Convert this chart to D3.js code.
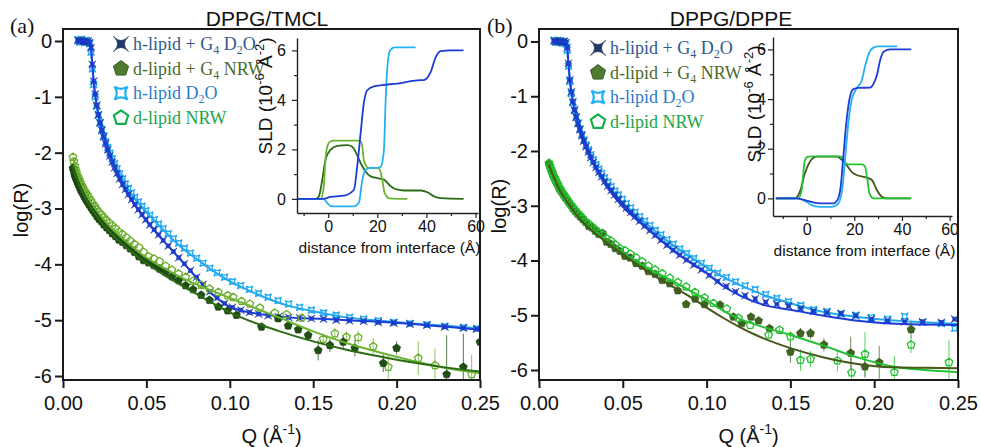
<!DOCTYPE html>
<html>
<head>
<meta charset="utf-8">
<script src="https://cdn.jsdelivr.net/npm/d3@7"></script>
<style>
  body { margin: 0; background: #fff; }
  svg text { font-family: "Liberation Sans", Arial, sans-serif; fill: #111; }
</style>
</head>
<body>
<svg id="chart" width="981" height="447"></svg>
<script>
// ---------------- Reflectivity data (log R vs Q, Å^-1) ----------------
// Q grid of the D2O contrast measurements
const qD2O = [0.0090,0.0100,0.0110,0.0120,0.0130,0.0140,0.0150,0.0160,
  0.0168,0.0176,0.0184,0.0193,0.0202,0.0212,0.0222,0.0233,0.0244,0.0256,
  0.0268,0.0281,0.0295,0.0309,0.0324,0.0340,0.0357,0.0374,0.0392,0.0411,
  0.0431,0.0452,0.0474,0.0497,0.0521,0.0547,0.0573,0.0601,0.0631,0.0662,
  0.0694,0.0728,0.0764,0.0801,0.0840,0.0881,0.0924,0.0969,0.1016,0.1066,
  0.1118,0.1173,0.1230,0.1290,0.1353,0.1419,0.1489,0.1562,0.1638,0.1718,
  0.1802,0.1890,0.1983,0.2080,0.2182,0.2289,0.2401,0.2480];
// Low-Q grid of the NRW contrast measurements
const qNRW = [0.0060,0.0065,0.0070,0.0075,0.0080,0.0086,0.0092,0.0098,0.0105,0.0112,
  0.0120,0.0128,0.0137,0.0146,0.0156,0.0167,0.0178,0.0190,0.0203,0.0216,
  0.0230,0.0245,0.0261,0.0278,0.0296,0.0315,0.0335,0.0356,0.0379,0.0403,
  0.0428,0.0455,0.0483,0.0513,0.0545,0.0579,0.0615,0.0653,0.0693,0.0735,
  0.0780,0.0828,0.0878,0.0931,0.0987];
// Q grids of the fitted model curves
const qFitD2O = [0.009,0.016,0.0168,0.0176,0.0185,0.0195,0.021,0.023,0.025,0.028,0.031,0.035,
  0.04,0.045,0.05,0.06,0.07,0.08,0.09,0.1,0.11,0.12,0.135,0.15,0.17,0.19,0.21,0.23,0.25];
const qFitNRW = [0.006,0.008,0.010,0.0125,0.015,0.02,0.025,0.03,0.035,0.04,0.05,0.06,0.07,
  0.08,0.09,0.1,0.11,0.12,0.13,0.15,0.17,0.19,0.21,0.23,0.25];

// (a) DPPG/TMCL
const rA_hG4 = [0.01,0.00,0.01,-0.01,0.00,-0.02,0.00,-0.03,
  -0.12,-0.42,-0.72,-0.95,-1.15,-1.32,-1.47,-1.60,-1.72,-1.84,
  -1.95,-2.06,-2.17,-2.27,-2.37,-2.47,-2.57,-2.66,-2.75,-2.84,
  -2.93,-3.02,-3.11,-3.20,-3.29,-3.38,-3.47,-3.57,-3.67,-3.77,
  -3.88,-3.99,-4.11,-4.23,-4.36,-4.49,-4.60,-4.70,-4.77,-4.82,
  -4.86,-4.89,-4.92,-4.94,-4.95,-4.96,-4.97,-4.98,-5.00,-5.01,
  -5.02,-5.04,-5.05,-5.07,-5.09,-5.12,-5.14,-5.16];
const rA_h = [0.02,-0.02,0.03,0.00,-0.03,0.01,-0.02,-0.05,
  -0.20,-0.50,-0.78,-1.00,-1.17,-1.33,-1.46,-1.59,-1.70,-1.81,
  -1.91,-2.01,-2.11,-2.20,-2.29,-2.38,-2.47,-2.56,-2.64,-2.72,
  -2.80,-2.88,-2.96,-3.04,-3.12,-3.20,-3.28,-3.36,-3.45,-3.54,
  -3.62,-3.71,-3.80,-3.89,-3.98,-4.07,-4.15,-4.23,-4.31,-4.38,
  -4.45,-4.52,-4.59,-4.65,-4.71,-4.77,-4.82,-4.87,-4.91,-4.95,
  -4.98,-5.01,-5.04,-5.06,-5.08,-5.11,-5.13,-5.15];
const rA_dG4 = [-2.28,-2.33,-2.40,-2.44,-2.48,-2.52,-2.57,-2.60,-2.66,-2.70,
  -2.74,-2.79,-2.84,-2.88,-2.93,-2.98,-3.03,-3.08,-3.14,-3.19,
  -3.23,-3.29,-3.34,-3.39,-3.45,-3.50,-3.56,-3.60,-3.66,-3.72,
  -3.78,-3.86,-3.93,-3.97,-4.02,-4.08,-4.14,-4.22,-4.29,-4.38,
  -4.45,-4.55,-4.64,-4.76,-4.83];
const rA_d = [-2.08,-2.16,-2.24,-2.30,-2.35,-2.41,-2.45,-2.49,-2.54,-2.59,
  -2.63,-2.68,-2.72,-2.76,-2.81,-2.86,-2.91,-2.96,-3.02,-3.07,
  -3.11,-3.16,-3.21,-3.26,-3.31,-3.36,-3.42,-3.46,-3.52,-3.58,
  -3.64,-3.70,-3.78,-3.86,-3.90,-3.95,-4.03,-4.10,-4.17,-4.23,
  -4.30,-4.37,-4.44,-4.50,-4.56];
// high-Q NRW points with error bars
const qA_dG4Hi = [0.104,0.119,0.129,0.135,0.141,0.147,0.153,0.160,0.168,0.175,0.192,0.200,0.230,0.240,0.250];
const rA_dG4Hi = [-4.91,-5.12,-4.97,-5.10,-5.17,-5.27,-5.54,-5.45,-5.39,-5.50,-5.77,-5.50,-5.97,-5.84,-5.39];
const eA_dG4Hi = [0.03,0.05,0.05,0.05,0.06,0.07,0.18,0.12,0.12,0.15,0.16,0.12,0.70,0.60,0.25];
const qA_dHi = [0.102,0.107,0.112,0.118,0.127,0.134,0.143,0.156,0.163,0.170,0.177,0.186,0.195,0.213,0.223,0.245];
const rA_dHi = [-4.59,-4.66,-4.71,-4.78,-4.87,-4.90,-4.96,-5.34,-5.24,-5.30,-5.31,-5.47,-5.84,-5.68,-5.81,-5.97];
const eA_dHi = [0.02,0.02,0.03,0.03,0.04,0.04,0.05,0.10,0.10,0.10,0.12,0.15,0.22,0.30,0.30,0.35];
// fitted curves
const fA_hG4 = [0,-0.01,-0.12,-0.42,-0.75,-1.0,-1.28,-1.55,-1.77,-2.04,-2.27,-2.52,-2.8,-3.02,-3.22,
  -3.57,-3.9,-4.24,-4.55,-4.76,-4.85,-4.9,-4.95,-4.97,-5.0,-5.03,-5.07,-5.12,-5.17];
const fA_h = [0,-0.02,-0.18,-0.48,-0.8,-1.04,-1.3,-1.54,-1.75,-2.0,-2.2,-2.43,-2.7,-2.9,-3.06,
  -3.38,-3.67,-3.9,-4.12,-4.3,-4.45,-4.58,-4.74,-4.84,-4.95,-5.01,-5.06,-5.1,-5.15];
const fA_dG4 = [-2.22,-2.45,-2.6,-2.76,-2.9,-3.13,-3.32,-3.48,-3.62,-3.75,-3.98,-4.18,-4.36,
  -4.53,-4.7,-4.86,-4.99,-5.1,-5.2,-5.38,-5.53,-5.65,-5.76,-5.85,-5.92];
const fA_d = [-2.1,-2.3,-2.48,-2.65,-2.8,-3.03,-3.22,-3.38,-3.52,-3.65,-3.88,-4.06,-4.22,
  -4.36,-4.48,-4.6,-4.72,-4.84,-4.96,-5.2,-5.41,-5.58,-5.73,-5.86,-5.95];

// (b) DPPG/DPPE
const rB_hG4 = [0.01,0.00,-0.01,0.01,0.00,-0.01,0.00,-0.02,
  -0.11,-0.40,-0.70,-0.92,-1.10,-1.25,-1.38,-1.50,-1.61,-1.72,
  -1.82,-1.92,-2.02,-2.12,-2.21,-2.30,-2.39,-2.47,-2.56,-2.64,
  -2.72,-2.80,-2.88,-2.96,-3.04,-3.12,-3.20,-3.28,-3.37,-3.45,
  -3.54,-3.63,-3.72,-3.81,-3.90,-3.99,-4.08,-4.17,-4.27,-4.38,
  -4.47,-4.57,-4.64,-4.70,-4.76,-4.80,-4.83,-4.88,-4.93,-4.95,
  -4.97,-5.01,-5.07,-5.10,-5.12,-5.12,-5.13,-5.07];
const rB_h = [0.02,-0.01,0.02,-0.02,0.01,-0.03,0.00,-0.04,
  -0.16,-0.45,-0.73,-0.95,-1.12,-1.26,-1.38,-1.49,-1.60,-1.70,
  -1.80,-1.89,-1.98,-2.07,-2.16,-2.25,-2.33,-2.41,-2.49,-2.57,
  -2.65,-2.73,-2.80,-2.88,-2.96,-3.04,-3.12,-3.20,-3.28,-3.36,
  -3.45,-3.53,-3.62,-3.70,-3.79,-3.87,-3.96,-4.05,-4.14,-4.23,
  -4.31,-4.39,-4.46,-4.53,-4.62,-4.69,-4.75,-4.82,-4.90,-4.93,
  -4.97,-5.00,-5.04,-5.07,-5.02,-5.13,-5.15,-5.24];
const rB_dG4 = [-2.24,-2.28,-2.33,-2.37,-2.42,-2.46,-2.50,-2.54,-2.58,-2.62,
  -2.68,-2.72,-2.76,-2.80,-2.85,-2.89,-2.94,-2.99,-3.05,-3.10,
  -3.15,-3.20,-3.25,-3.30,-3.37,-3.40,-3.46,-3.52,-3.50,-3.66,
  -3.70,-3.78,-3.83,-3.92,-3.95,-4.05,-4.10,-4.20,-4.25,-4.36,
  -4.42,-4.55,-4.80,-4.70,-4.80];
const rB_d = [-2.22,-2.27,-2.32,-2.36,-2.40,-2.45,-2.49,-2.53,-2.57,-2.61,
  -2.66,-2.70,-2.75,-2.79,-2.83,-2.88,-2.93,-2.98,-3.03,-3.08,
  -3.13,-3.18,-3.23,-3.29,-3.33,-3.38,-3.43,-3.49,-3.53,-3.60,
  -3.64,-3.71,-3.78,-3.82,-3.88,-3.95,-4.02,-4.10,-4.17,-4.24,
  -4.32,-4.40,-4.48,-4.58,-4.68];
const qB_dG4Hi = [0.108,0.116,0.121,0.1265,0.131,0.1375,0.150,0.156,0.162,0.170,0.186,0.1945,0.203,0.222];
const rB_dG4Hi = [-4.81,-5.03,-5.15,-5.03,-5.10,-5.24,-5.67,-5.33,-5.33,-5.54,-5.69,-5.94,-5.86,-5.26];
const eB_dG4Hi = [0.03,0.04,0.05,0.05,0.05,0.06,0.20,0.10,0.10,0.12,0.30,0.20,0.30,0.15];
const qB_dHi = [0.104,0.112,0.119,0.126,0.137,0.1435,0.150,0.156,0.162,0.178,0.1865,0.1945,0.212,0.222,0.2446];
const rB_dHi = [-4.78,-4.88,-5.05,-5.18,-5.36,-5.27,-5.39,-5.82,-5.80,-5.83,-6.05,-5.71,-6.04,-5.54,-5.86];
const eB_dHi = [0.02,0.03,0.03,0.04,0.05,0.05,0.10,0.20,0.15,0.20,0.35,0.40,0.30,0.15,0.40];
const fB_hG4 = [0,-0.01,-0.1,-0.4,-0.72,-0.95,-1.2,-1.45,-1.65,-1.92,-2.14,-2.38,-2.63,-2.84,-3.02,
  -3.3,-3.56,-3.82,-4.03,-4.23,-4.47,-4.64,-4.82,-4.9,-5.01,-5.1,-5.15,-5.17,-5.18];
const fB_h = [0,-0.02,-0.15,-0.45,-0.75,-0.98,-1.22,-1.45,-1.64,-1.9,-2.1,-2.33,-2.57,-2.77,-2.94,
  -3.22,-3.48,-3.72,-3.93,-4.12,-4.3,-4.45,-4.64,-4.78,-4.94,-5.03,-5.09,-5.13,-5.16];
const fB_dG4 = [-2.25,-2.42,-2.56,-2.72,-2.85,-3.07,-3.26,-3.41,-3.54,-3.66,-3.88,-4.1,-4.3,
  -4.48,-4.66,-4.86,-5.05,-5.22,-5.37,-5.6,-5.77,-5.89,-5.95,-5.96,-5.97];
const fB_d = [-2.23,-2.4,-2.55,-2.71,-2.84,-3.06,-3.25,-3.4,-3.53,-3.65,-3.86,-4.05,-4.22,
  -4.38,-4.55,-4.72,-4.92,-5.07,-5.18,-5.36,-5.56,-5.77,-5.93,-6.0,-6.04];

// ---------------- SLD profiles (inset): distance (Å) vs SLD (1e-6 Å^-2) ----------------
const zA_hG4 = [-12.6,-2,0.9,6.4,10.5,11.8,13.2,14.5,15.9,18.6,22,28.2,36.3,39,41.7,43.8,45.8,49.9,55.1];
const sA_hG4 = [0,0,0.08,0.13,0.37,1.3,2.65,3.86,4.39,4.55,4.6,4.66,4.79,4.8,5.12,5.73,5.97,6.0,6.0];
const zA_h = [-12.6,-2,-0.5,1,5,10.5,12.5,13.9,15.2,17.3,20,21.4,22.7,23.4,24.1,25.2,27,35.6];
const sA_h = [0,0,-0.15,-0.29,-0.3,-0.3,-0.16,0.78,1.18,1.25,1.25,1.3,1.98,3.99,5.33,6.0,6.12,6.12];
const zA_d = [-12.6,-3.1,-1.8,-1.1,-0.4,0.9,2.3,11.8,13.2,13.9,14.5,15.6,16.6,20,21,22,23,24.8,32.2];
const sA_d = [0,0,0.5,1.58,2.11,2.32,2.35,2.35,2.32,2.11,1.58,1.31,1.25,1.25,1.18,0.78,0.24,0.02,0];
const zA_dG4 = [-12.6,-5.2,-3.8,-2.4,-1.1,0.9,3.7,7.8,9.8,11.1,13.2,15.2,17.3,20,22.7,25.4,28.2,30.9,37.7,40.4,43.1,45.9,55.1];
const sA_dG4 = [0,0,0.1,0.78,1.58,1.98,2.14,2.17,2.11,1.91,1.45,1.11,0.91,0.84,0.78,0.51,0.37,0.34,0.34,0.27,0.1,0.03,0];

const zB_hG4 = [-12.9,-4.2,-0.7,2.8,5.6,11.2,12.9,14.3,15.4,16.5,17.9,19.6,21.7,26.6,28,29.5,30.9,32.3,35.1,43.9];
const sB_hG4 = [0,0,-0.07,-0.16,-0.2,-0.2,-0.07,0.47,1.68,2.89,3.96,4.4,4.45,4.46,4.6,4.97,5.58,5.91,6.0,6.0];
const zB_h = [-12.9,-4.2,-0.7,2.1,5.6,10.5,13.3,15.1,16.1,17.5,18.9,21,23.2,24.5,25.9,28,30.1,37.9];
const sB_h = [0,0,-0.1,-0.27,-0.34,-0.34,-0.2,0.47,1.55,3.02,3.96,4.43,4.77,5.31,5.78,6.07,6.12,6.12];
const zB_d = [-12.9,-3.5,-2.1,-0.7,0.7,2.8,14,15.4,16.5,17.5,23.2,24.5,25.5,26.4,28,43.9];
const sB_d = [0,0,0.33,1.54,1.68,1.69,1.69,1.6,1.41,1.37,1.37,1.28,0.74,0.2,0,0];
const zB_dG4 = [-12.9,-4.9,-2.8,-0.7,1.4,4.2,12.6,14.7,16.8,18.9,21,23.9,25.3,27.4,29.5,31.6,33.7,43.9];
const sB_dG4 = [0,0,0.27,1.01,1.48,1.68,1.68,1.56,1.34,1.07,0.94,0.87,0.84,0.74,0.33,0.06,0,0];

// ---------------- axis ticks and labels ----------------
const qTicks = [0, 0.05, 0.10, 0.15, 0.20, 0.25];
const logTicks = [0, -1, -2, -3, -4, -5, -6];
const zTicks = [0, 20, 40, 60], zMinor = [-10, 10, 30, 50];
const sldTicks = [0, 2, 4, 6], sldMinor = [1, 3, 5];
const titles = ["DPPG/TMCL", "DPPG/DPPE"];
const panelTags = ["(a)", "(b)"];

// ---------------- helpers ----------------
const svg = d3.select("#chart");
const zip = (xs, ys) => xs.map((x, i) => ({ x, y: ys[i] }));
const zip3 = (xs, ys, es) => xs.map((x, i) => ({ x, y: ys[i], e: es[i] }));
const fmtQ = d => d.toFixed(2);
const fmtInt = d => String(Math.round(d));

// concave four-pointed marker (corners at ±r); k sets how far the sides bow in
function starPath(r, k) {
  return `M${-r},${-r}Q0,${-k * r} ${r},${-r}Q${k * r},0 ${r},${r}Q0,${k * r} ${-r},${r}Q${-k * r},0 ${-r},${-r}Z`;
}
function pentPath(r) {
  const pts = d3.range(5).map(i => {
    const a = (-90 + 72 * i) * Math.PI / 180;
    return [r * Math.cos(a), r * Math.sin(a)];
  });
  return "M" + pts.map(p => p.join(",")).join("L") + "Z";
}

function drawPanel(p, idx) {
  const g = svg.append("g");
  const x = d3.scaleLinear().domain([0, 0.25]).range([p.left, p.right]);
  const y = d3.scaleLinear().domain([-6, 0]).range([p.yMin6, p.y0]);
  const clipId = "clip" + idx;
  svg.append("clipPath").attr("id", clipId).append("rect")
    .attr("x", p.left).attr("y", p.top).attr("width", p.right - p.left).attr("height", p.bottom - p.top);
  const plot = g.append("g").attr("clip-path", `url(#${clipId})`);
  const line = d3.line().x(d => x(d.x)).y(d => y(d.y)).curve(d3.curveMonotoneX);

  // D2O series: light blue open stars, dark blue filled stars
  plot.append("g").selectAll("path").data(zip(qD2O, p.rH)).join("path")
    .attr("transform", d => `translate(${x(d.x)},${y(d.y)})`)
    .attr("d", starPath(3.4, 0.25)).attr("fill", "none")
    .attr("stroke", p.cLightBlue).attr("stroke-width", 1.3);
  plot.append("path").datum(zip(qFitD2O, p.fH)).attr("d", line)
    .attr("fill", "none").attr("stroke", p.cLightBlue).attr("stroke-width", 2);
  plot.append("g").selectAll("path").data(zip(qD2O, p.rHG4)).join("path")
    .attr("transform", d => `translate(${x(d.x)},${y(d.y)})`)
    .attr("d", starPath(3.6, 0)).attr("fill", p.cBlue)
    .attr("stroke", "#1a2f9a").attr("stroke-width", 0.6);
  plot.append("path").datum(zip(qFitD2O, p.fHG4)).attr("d", line)
    .attr("fill", "none").attr("stroke", p.cBlueLine).attr("stroke-width", 2);

  // NRW series
  const dG4 = zip(qNRW, p.rDG4).concat(zip3(p.qDG4Hi, p.rDG4Hi, p.eDG4Hi));
  const dNo = zip(qNRW, p.rD).concat(zip3(p.qDHi, p.rDHi, p.eDHi));
  const errs = (data, col) => plot.append("g").selectAll("line").data(data.filter(d => d.e > 0.04)).join("line")
    .attr("x1", d => x(d.x)).attr("x2", d => x(d.x))
    .attr("y1", d => y(d.y + d.e)).attr("y2", d => y(d.y - d.e))
    .attr("stroke", col).attr("stroke-width", 1).attr("opacity", 0.75);
  errs(dG4, p.cDarkGreen);
  errs(dNo, p.cLightGreen);
  const openPent = () => plot.append("g").selectAll("path").data(dNo).join("path")
    .attr("transform", d => `translate(${x(d.x)},${y(d.y)})`)
    .attr("d", pentPath(4)).attr("fill", "none")
    .attr("stroke", p.cLightGreen).attr("stroke-width", 1.3);
  const filledPent = () => plot.append("g").selectAll("path").data(dG4).join("path")
    .attr("transform", d => `translate(${x(d.x)},${y(d.y)})`)
    .attr("d", pentPath(4.2)).attr("fill", p.cDarkGreen)
    .attr("stroke", p.cDarkGreenEdge).attr("stroke-width", 0.6);
  if (p.openOnTop) { filledPent(); openPent(); } else { openPent(); filledPent(); }
  plot.append("path").datum(zip(qFitNRW, p.fD)).attr("d", line)
    .attr("fill", "none").attr("stroke", p.cLightGreenLine).attr("stroke-width", 2);
  plot.append("path").datum(zip(qFitNRW, p.fDG4)).attr("d", line)
    .attr("fill", "none").attr("stroke", p.cDarkGreenLine).attr("stroke-width", 2);

  // axes
  const ax = g.append("g").attr("transform", `translate(0,${p.bottom})`)
    .call(d3.axisBottom(x).tickValues(qTicks).tickFormat(fmtQ)
      .tickSize(8).tickPadding(8).tickSizeOuter(0));
  const ay = g.append("g").attr("transform", `translate(${p.left},0)`)
    .call(d3.axisLeft(y).tickValues(logTicks).tickFormat(fmtInt)
      .tickSize(8).tickPadding(3).tickSizeOuter(0));
  [ax, ay].forEach(a => {
    a.select(".domain").remove();
    a.selectAll(".tick line").attr("stroke", "#1a1a1a").attr("stroke-width", 2);
    a.selectAll(".tick text").attr("font-size", 20).attr("fill", "#111")
      .attr("font-family", "'Liberation Sans', Arial, sans-serif");
  });

  // frame
  g.append("rect").attr("x", p.left).attr("y", p.top)
    .attr("width", p.right - p.left).attr("height", p.bottom - p.top)
    .attr("fill", "none").attr("stroke", "#1a1a1a").attr("stroke-width", 2);

  // axis titles
  g.append("text").attr("transform", `translate(${p.yLabelX},${p.yLabelY}) rotate(-90)`)
    .attr("text-anchor", "middle").attr("font-size", 20).text("log(R)");
  const xt = g.append("text").attr("x", (p.left + p.right) / 2).attr("y", 443)
    .attr("text-anchor", "middle").attr("font-size", 20);
  xt.append("tspan").text("Q (Å");
  xt.append("tspan").attr("font-size", 14).attr("dy", -9).text("-1");
  xt.append("tspan").attr("dy", 9).text(")");

  // title and panel tag
  g.append("text").attr("x", p.titleX).attr("y", 26).attr("text-anchor", "middle")
    .attr("font-size", 21).text(titles[idx]);
  g.append("text").attr("x", p.tagX).attr("y", 33).attr("font-size", 22)
    .style("font-family", "'Liberation Serif', 'Times New Roman', serif").text(panelTags[idx]);

  // legend
  const lg = g.append("g");
  const rows = [
    { label: ["h-lipid + G", "4", " D", "2", "O"], col: "#2f5a8e" },
    { label: ["d-lipid + G", "4", " NRW"], col: "#4a6b2c" },
    { label: ["h-lipid D", "2", "O"], col: "#2b7ccc" },
    { label: ["d-lipid NRW"], col: "#22a548" }
  ];
  rows.forEach((r, i) => {
    const cy = p.legY + i * 24.6;
    const m = lg.append("path").attr("transform", `translate(${p.legX},${cy})`);
    if (i === 0) m.attr("d", starPath(7.5, -0.1)).attr("fill", "#1f3b6e").attr("stroke", "#1a2f55").attr("stroke-width", 0.8);
    if (i === 1) m.attr("d", pentPath(8)).attr("fill", "#4e7a32").attr("stroke", "#3b5c26").attr("stroke-width", 1);
    if (i === 2) m.attr("d", starPath(6.5, 0.3)).attr("fill", "none").attr("stroke", "#25b2f4").attr("stroke-width", 2.2);
    if (i === 3) m.attr("d", pentPath(7.5)).attr("fill", "none").attr("stroke", "#14b04c").attr("stroke-width", 2.2);
    const t = lg.append("text").attr("x", p.legX + 12).attr("y", cy + 6)
      .attr("font-size", 18).style("fill", r.col)
      .style("font-family", "'Liberation Serif', 'Times New Roman', serif");
    r.label.forEach((s, j) => {
      const sub = j % 2 === 1;
      t.append("tspan").attr("font-size", sub ? 12 : 18)
        .attr("dy", sub ? 4 : (j > 0 ? -4 : 0)).text(s);
    });
  });

  drawInset(p.inset, idx);
}

function drawInset(s, idx) {
  const g = svg.append("g");
  const x = d3.scaleLinear().domain(s.zDomain).range([s.left, s.right]);
  const y = d3.scaleLinear().domain(s.sDomain).range([s.bottom, s.top]);
  const line = d3.line().x(d => x(d.x)).y(d => y(d.y)).curve(d3.curveMonotoneX);
  s.curves.forEach(c => {
    g.append("path").datum(zip(c.z, c.s)).attr("d", line)
      .attr("fill", "none").attr("stroke", c.col).attr("stroke-width", 1.8);
  });
  const ax = g.append("g").attr("transform", `translate(0,${s.bottom})`)
    .call(d3.axisBottom(x).tickValues(zTicks).tickFormat(fmtInt).tickSize(5).tickPadding(3).tickSizeOuter(0));
  g.append("g").attr("transform", `translate(0,${s.bottom})`)
    .call(d3.axisBottom(x).tickValues(zMinor).tickSize(3).tickFormat("").tickSizeOuter(0))
    .select(".domain").remove();
  const ay = g.append("g").attr("transform", `translate(${s.left},0)`)
    .call(d3.axisLeft(y).tickValues(sldTicks).tickFormat(fmtInt).tickSize(5).tickPadding(s.yPad).tickSizeOuter(0));
  g.append("g").attr("transform", `translate(${s.left},0)`)
    .call(d3.axisLeft(y).tickValues(sldMinor).tickSize(3).tickFormat("").tickSizeOuter(0))
    .select(".domain").remove();
  g.selectAll(".domain").attr("stroke", "#222").attr("stroke-width", 1.4);
  g.selectAll(".tick line").attr("stroke", "#222").attr("stroke-width", 1.2);
  [ax, ay].forEach(a => a.selectAll(".tick text").attr("font-size", 16).attr("fill", "#111")
    .attr("font-family", "'Liberation Sans', Arial, sans-serif"));

  g.append("text").attr("x", (s.left + s.right) / 2 + 2).attr("y", s.bottom + 40)
    .attr("text-anchor", "middle").attr("font-size", 15.5).text("distance from interface (Å)");
  const yt = g.append("text").attr("transform", `translate(${s.yLabelX},${s.yLabelY}) rotate(-90)`)
    .attr("text-anchor", "middle").attr("font-size", 19);
  yt.append("tspan").text("SLD (10");
  yt.append("tspan").attr("font-size", 13).attr("dy", -8).text("-6");
  yt.append("tspan").attr("dy", 8).text(" Å");
  yt.append("tspan").attr("font-size", 13).attr("dy", -8).text("-2");
  yt.append("tspan").attr("dy", 8).text(")");
}

const panels = [
  {
    left: 63, right: 480, top: 29, bottom: 380, y0: 41, yMin6: 376,
    rH: rA_h, fH: fA_h, rHG4: rA_hG4, fHG4: fA_hG4,
    rDG4: rA_dG4, qDG4Hi: qA_dG4Hi, rDG4Hi: rA_dG4Hi, eDG4Hi: eA_dG4Hi, fDG4: fA_dG4,
    rD: rA_d, qDHi: qA_dHi, rDHi: rA_dHi, eDHi: eA_dHi, fD: fA_d,
    cLightBlue: "#22a9f0", cBlue: "#1d3fcf", cBlueLine: "#1b3cd8",
    cDarkGreen: "#1f4d12", cDarkGreenEdge: "#163a0c", cDarkGreenLine: "#2a6b14",
    cLightGreen: "#6aae2c", cLightGreenLine: "#6cb334", openOnTop: false,
    yLabelX: 28, yLabelY: 210, titleX: 267, tagX: 10, legX: 121, legY: 44,
    inset: {
      left: 297, right: 478, top: 38, bottom: 213, zDomain: [-12.7, 61], sDomain: [-0.57, 6.5],
      yLabelX: 272, yLabelY: 96, yPad: 6,
      curves: [
        { z: zA_dG4, s: sA_dG4, col: "#2a6b14" },
        { z: zA_d, s: sA_d, col: "#6cb334" },
        { z: zA_h, s: sA_h, col: "#25b0f2" },
        { z: zA_hG4, s: sA_hG4, col: "#1b3cd8" }
      ]
    }
  },
  {
    left: 539, right: 958, top: 29, bottom: 380, y0: 41.5, yMin6: 370,
    rH: rB_h, fH: fB_h, rHG4: rB_hG4, fHG4: fB_hG4,
    rDG4: rB_dG4, qDG4Hi: qB_dG4Hi, rDG4Hi: rB_dG4Hi, eDG4Hi: eB_dG4Hi, fDG4: fB_dG4,
    rD: rB_d, qDHi: qB_dHi, rDHi: rB_dHi, eDHi: eB_dHi, fD: fB_d,
    cLightBlue: "#22a9f0", cBlue: "#1d3fcf", cBlueLine: "#1b3cd8",
    cDarkGreen: "#3e6420", cDarkGreenEdge: "#2c4a16", cDarkGreenLine: "#44581a",
    cLightGreen: "#20c22c", cLightGreenLine: "#22c232", openOnTop: true,
    yLabelX: 761, yLabelY: 104, titleX: 731, tagX: 487, legX: 598, legY: 48,
    inset: {
      left: 773, right: 952, top: 37, bottom: 216, zDomain: [-14.1, 61], sDomain: [-0.71, 6.5],
      yLabelX: 761, yLabelY: 104, yPad: 2,
      curves: [
        { z: zB_dG4, s: sB_dG4, col: "#44581a" },
        { z: zB_d, s: sB_d, col: "#22c232" },
        { z: zB_h, s: sB_h, col: "#25b0f2" },
        { z: zB_hG4, s: sB_hG4, col: "#1b3cd8" }
      ]
    }
  }
];
// panel-level y title position for (b)
panels[1].yLabelX = 506; panels[1].yLabelY = 206;
panels.forEach(drawPanel);
</script>
</body>
</html>
